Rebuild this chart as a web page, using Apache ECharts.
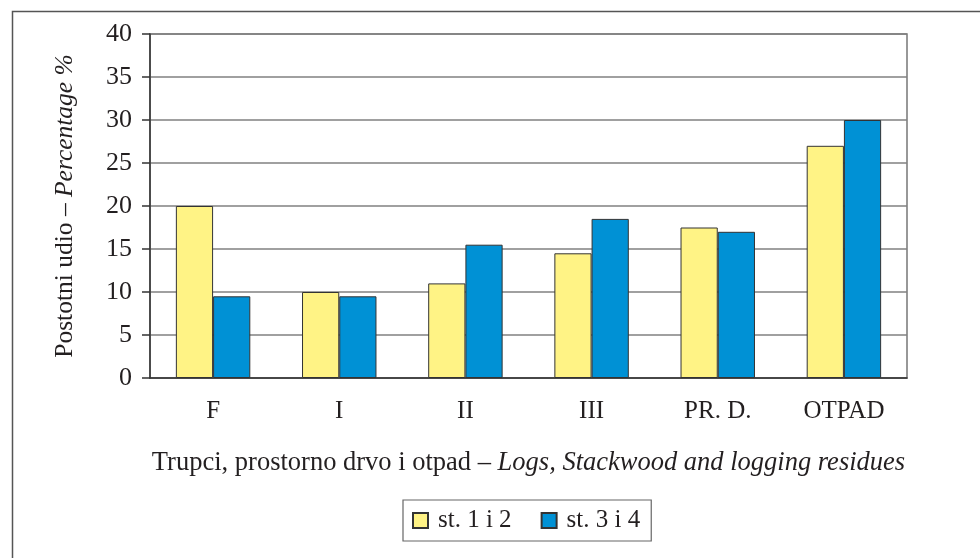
<!DOCTYPE html>
<html>
<head>
<meta charset="utf-8">
<script src="https://cdn.jsdelivr.net/npm/echarts@6/dist/echarts.min.js"></script>
<style>html,body{margin:0;padding:0;background:#fff}#c{width:980px;height:558px}</style>
</head>
<body>
<div id="c"></div>
<script>
var categories = ['F', 'I', 'II', 'III', 'PR. D.', 'OTPAD'];
var seriesNames = ['st. 1 i 2', 'st. 3 i 4'];
var st12 = [20, 10, 11, 14.5, 17.5, 27];
var st34 = [9.5, 9.5, 15.5, 18.5, 17, 30];
var yTicks = [0, 5, 10, 15, 20, 25, 30, 35, 40];

var FONT = 'Liberation Serif';
var chart = echarts.init(document.getElementById('c'));
chart.setOption({
  animation: false,
  backgroundColor: '#fff',
  textStyle: { fontFamily: FONT, color: '#231f20' },
  graphic: [{
    type: 'rect', left: 10, top: 9, shape: { width: 1000, height: 600 },
    style: { fill: 'none', stroke: '#555', lineWidth: 1.5 }, silent: true, z: -1
  }],
  grid: { left: 150, right: 73, top: 34, bottom: 180, show: true, borderColor: '#777', borderWidth: 1.5, backgroundColor: 'transparent' },
  legend: {
    data: seriesNames,
    left: 403, top: 500,
    padding: [8, 11, 8, 9],
    itemWidth: 15, itemHeight: 15, itemGap: 29,
    borderColor: '#666', borderWidth: 1.2,
    icon: 'rect',
    textStyle: { fontFamily: FONT, fontSize: 25, color: '#231f20', padding: [0, 0, 0, 5] }
  },
  xAxis: {
    type: 'category',
    data: categories,
    name: '{n|Trupci, prostorno drvo i otpad – }{i|Logs, Stackwood and logging residues}',
    nameLocation: 'middle', nameGap: 72,
    nameTextStyle: { rich: { n: { fontFamily: FONT, fontSize: 26.5, color: '#231f20' }, i: { fontFamily: FONT, fontSize: 26.5, fontStyle: 'italic', color: '#231f20' } } },
    axisLine: { lineStyle: { color: '#333', width: 1.5 } },
    axisTick: { length: 8, lineStyle: { color: '#333', width: 1.5 } },
    axisLabel: { fontFamily: FONT, fontSize: 25, color: '#231f20', margin: 21 }
  },
  yAxis: {
    type: 'value', min: 0, max: 40, interval: 5,
    name: '{n|Postotni udio – }{i|Percentage %}',
    nameLocation: 'middle', nameGap: 72, nameRotate: 90,
    nameTextStyle: { rich: { n: { fontFamily: FONT, fontSize: 25.5, color: '#231f20' }, i: { fontFamily: FONT, fontSize: 25.5, fontStyle: 'italic', color: '#231f20' } } },
    axisLine: { show: true, lineStyle: { color: '#333', width: 1.5 } },
    axisTick: { show: true, length: 8, lineStyle: { color: '#333', width: 1.5 } },
    axisLabel: { fontFamily: FONT, fontSize: 26, color: '#231f20', margin: 18,
      formatter: function (v) { return yTicks.indexOf(v) >= 0 ? String(v) : ''; } },
    splitLine: { show: true, lineStyle: { color: '#808080', width: 1.5 } }
  },
  series: [
    { name: seriesNames[0], type: 'bar', data: st12, barGap: '0%', barCategoryGap: '41%',
      itemStyle: { color: '#FFF385', borderColor: '#333', borderWidth: 1 } },
    { name: seriesNames[1], type: 'bar', data: st34, barGap: '0%', barCategoryGap: '41%',
      itemStyle: { color: '#0091D5', borderColor: '#333', borderWidth: 1 } }
  ]
});
</script>
</body>
</html>
